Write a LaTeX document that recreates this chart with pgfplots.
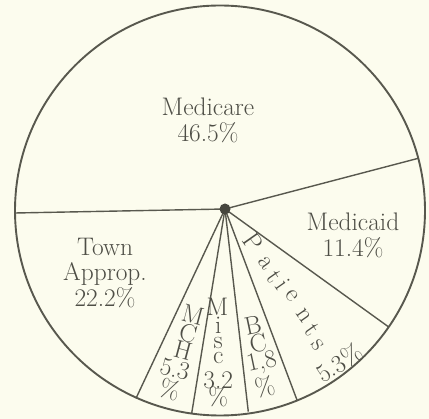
\documentclass[border=0pt]{standalone}
\usepackage{pgfplots}
\pgfplotsset{compat=1.18}
\definecolor{bg}{RGB}{252,252,238}
\definecolor{ink}{RGB}{88,88,78}
\definecolor{txt}{RGB}{78,78,70}
\begin{document}
\begin{tikzpicture}
\begin{axis}[scale only axis, width=429bp, height=419bp,
  xmin=0, xmax=429, ymin=0, ymax=419, hide axis, clip=false]
\fill[bg] (axis cs:0,0) rectangle (axis cs:429,419);
% outer circle
\draw[ink, line width=1.9bp] (axis cs:220,208.5) circle[radius=205];
% slice boundaries (hub -> rim)
\addplot[ink, line width=1.4bp] coordinates {(225,210) (15,206)};
\addplot[ink, line width=1.4bp] coordinates {(225,210) (418.3,260.7)};
\addplot[ink, line width=1.4bp] coordinates {(225,210) (388.3,92.3)};
\addplot[ink, line width=1.4bp] coordinates {(225,210) (297,19)};
\addplot[ink, line width=1.4bp] coordinates {(225,210) (248.3,7.3)};
\addplot[ink, line width=1.4bp] coordinates {(225,210) (191.7,5.7)};
\addplot[ink, line width=1.4bp] coordinates {(225,210) (136,20.7)};
\fill[ink!80!black] (axis cs:225,210) circle[radius=5.5];
% labels
\begin{scope}[every node/.style={text=txt, inner sep=0pt, font=\fontsize{25.5}{26}\selectfont}]
\node[align=center] at (axis cs:208,299) {Medicare\\46.5\%};
\node[align=center] at (axis cs:353,184) {Medicaid\\11.4\%};
\node[align=center] at (axis cs:105,146) {Town\\Approp.\\22.2\%};
% Patients
\node[rotate=-55] at (axis cs:253,177) {P};
\node[rotate=-55] at (axis cs:265,156) {a};
\node[rotate=-55] at (axis cs:274,142) {t};
\node[rotate=-55] at (axis cs:283,135) {i};
\node[rotate=-55] at (axis cs:292,123) {e};
\node[rotate=-55] at (axis cs:304,103) {n};
\node[rotate=-55] at (axis cs:312,89) {t};
\node[rotate=-55] at (axis cs:318,74) {s};
\node[rotate=33] at (axis cs:339,56) {5.3\%};
% BC
\node[rotate=12] at (axis cs:253,94) {B};
\node[rotate=12] at (axis cs:258,76) {C};
\node[rotate=12] at (axis cs:262,56) {1,8};
\node[rotate=12] at (axis cs:265,32) {\%};
% Misc
\node at (axis cs:217.5,112) {M};
\node at (axis cs:218.3,94) {i};
\node at (axis cs:218.3,76) {s};
\node at (axis cs:218.3,61) {c};
\node at (axis cs:218.3,39) {3.2};
\node at (axis cs:218.3,22) {\%};
% MCH
\node[rotate=-15] at (axis cs:193,104) {M};
\node[rotate=-15] at (axis cs:188,86) {C};
\node[rotate=-15] at (axis cs:183,69) {H};
\node[rotate=-15] at (axis cs:175,50) {5.3};
\node[rotate=-15] at (axis cs:170,29) {\%};
\end{scope}
\end{axis}
\end{tikzpicture}
\end{document}
